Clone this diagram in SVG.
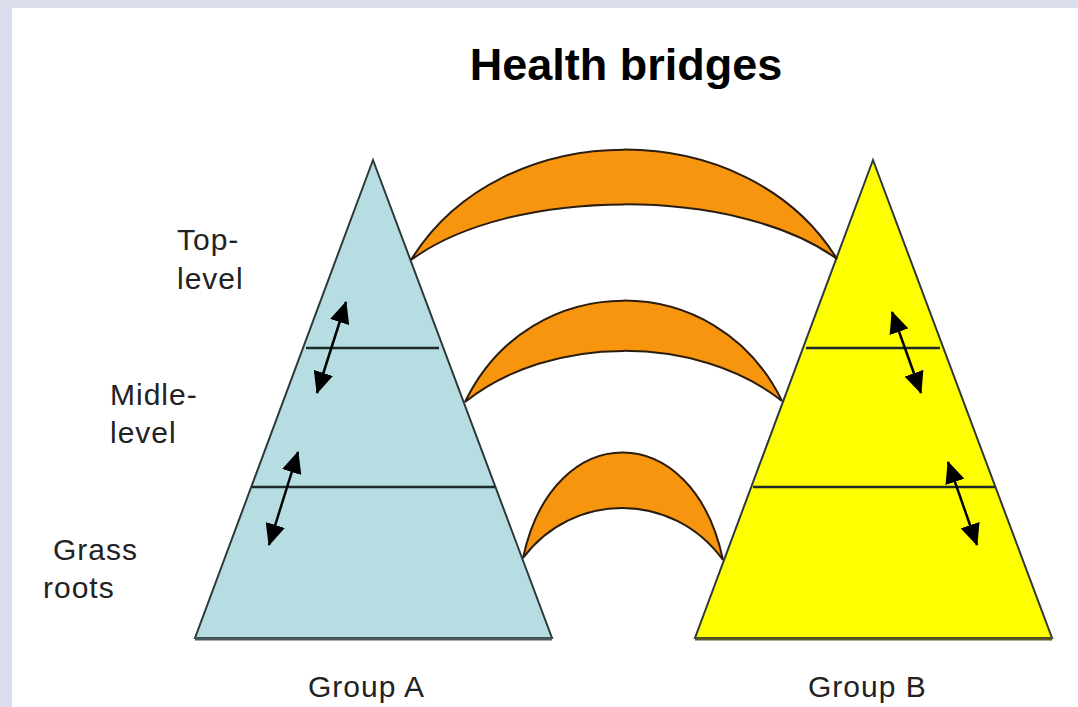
<svg xmlns="http://www.w3.org/2000/svg" width="1078" height="707" viewBox="0 0 1078 707">
  <style>
    .lbl { font-family: "Liberation Sans", Arial, sans-serif; font-size: 30px; fill: #222; letter-spacing: 1px; }
    .title { font-family: "Liberation Sans", Arial, sans-serif; font-size: 45px; font-weight: bold; fill: #000; }
    .tri { stroke: #2e3a3a; stroke-width: 2; stroke-linejoin: miter; }
    .lvl { stroke: #1e2a2a; stroke-width: 2.5; }
    .bridge { fill: #f7950f; stroke: #2b1d0e; stroke-width: 2; }
    .arr { stroke: #000; stroke-width: 2.5; fill: none; marker-start: url(#ah); marker-end: url(#ah); }
  </style>
  <defs>
    <marker id="ah" viewBox="0 0 22 20" refX="21" refY="10" markerWidth="22" markerHeight="20" markerUnits="userSpaceOnUse" orient="auto-start-reverse">
      <path d="M0,0 L22,10 L0,20 Z" fill="#000"/>
    </marker>
  </defs>
  <rect x="0" y="0" width="1078" height="707" fill="#dcdeee"/>
  <rect x="12" y="8" width="1066" height="699" fill="#ffffff"/>

  <text class="title" x="626" y="80" text-anchor="middle">Health bridges</text>

  <g id="groupA">
    <polygon class="tri" points="373,160 195,638 552,638" fill="#b6dde2"/>
    <line x1="195" y1="639" x2="552" y2="639" stroke="#4a5a5c" stroke-width="3"/>
    <line class="lvl" x1="306" y1="348" x2="439" y2="348"/>
    <line class="lvl" x1="252" y1="487" x2="495" y2="487"/>
    <path class="arr" d="M346,302 L317,393"/>
    <path class="arr" d="M298,452 L269,545"/>
    <text class="lbl" x="308" y="697">Group A</text>
  </g>

  <g id="groupB">
    <polygon class="tri" points="873,160 695,638 1052,638" fill="#ffff00"/>
    <line x1="695" y1="639" x2="1052" y2="639" stroke="#5a5a20" stroke-width="3"/>
    <line class="lvl" x1="806" y1="348" x2="940" y2="348"/>
    <line class="lvl" x1="753" y1="487" x2="995" y2="487"/>
    <path class="arr" d="M892,312 L921,393"/>
    <path class="arr" d="M948,462 L977,545"/>
    <text class="lbl" x="808" y="697">Group B</text>
  </g>

  <g id="labels">
    <text class="lbl" x="177" y="250">Top-</text>
    <text class="lbl" x="177" y="289">level</text>
    <text class="lbl" x="110" y="405">Midle-</text>
    <text class="lbl" x="110" y="443">level</text>
    <text class="lbl" x="53" y="560" letter-spacing="2">Grass</text>
    <text class="lbl" x="43" y="598">roots</text>
  </g>

  <g id="bridges">
    <path id="bridge-top" class="bridge" d="M411,260 C501,113 747,113 837,259 C737,186 511,186 411,260 Z"/>
    <path id="bridge-mid" class="bridge" d="M465,402 C530,267 717,267 782,401 C697,334 550,334 465,402 Z"/>
    <path id="bridge-bottom" class="bridge" d="M523,558 C553,417 693,417 723,560 C673,491 573,491 523,558 Z"/>
  </g>
</svg>
